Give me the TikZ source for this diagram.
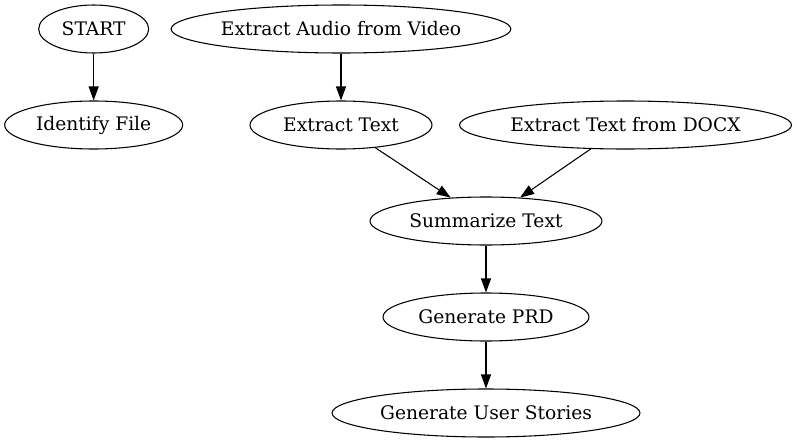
\documentclass[tikz,border=0pt]{standalone}
\usepackage{fontspec}
\setmainfont{DejaVu Serif}
\usetikzlibrary{arrows.meta,shapes}

\begin{document}
\begin{tikzpicture}[
    node distance=72pt,
    stage/.style={draw,ellipse,inner sep=0pt,minimum height=36pt,line width=0.8pt,font=\fontsize{14}{17}\selectfont},
    flow/.style={-{Triangle[length=10.5pt,width=7.5pt]},line width=0.8pt}]
    \useasboundingbox (0,0) rectangle (597.75pt,-332.25pt);
    \node [stage,minimum width=82.5pt] (start) at (70.25pt,-21.75pt) {START};
    \node [stage,minimum width=133.5pt,below of=start] (identify) {Identify File};
    \node [stage,minimum width=253.5pt,right of=start,node distance=185.5pt] (audio) {Extract Audio from Video};
    \node [stage,minimum width=136.5pt,below of=audio] (extract) {Extract Text};
    \node [stage,minimum width=249pt,right of=extract,node distance=213.4pt] (docx) {Extract Text from DOCX};
    \node [stage,minimum width=174pt,below of=extract,xshift=108.75pt] (summary) {Summarize Text};
    \node [stage,minimum width=154.5pt,below of=summary] (prd) {Generate PRD};
    \node [stage,minimum width=231pt,below of=prd] (stories) {Generate User Stories};
    \draw [flow] (start) to (identify);
    \draw [flow] (audio) to (extract);
    \draw [flow] (extract) to (summary);
    \draw [flow] (docx) to (summary);
    \draw [flow] (summary) to (prd);
    \draw [flow] (prd) to (stories);
\end{tikzpicture}
\end{document}
